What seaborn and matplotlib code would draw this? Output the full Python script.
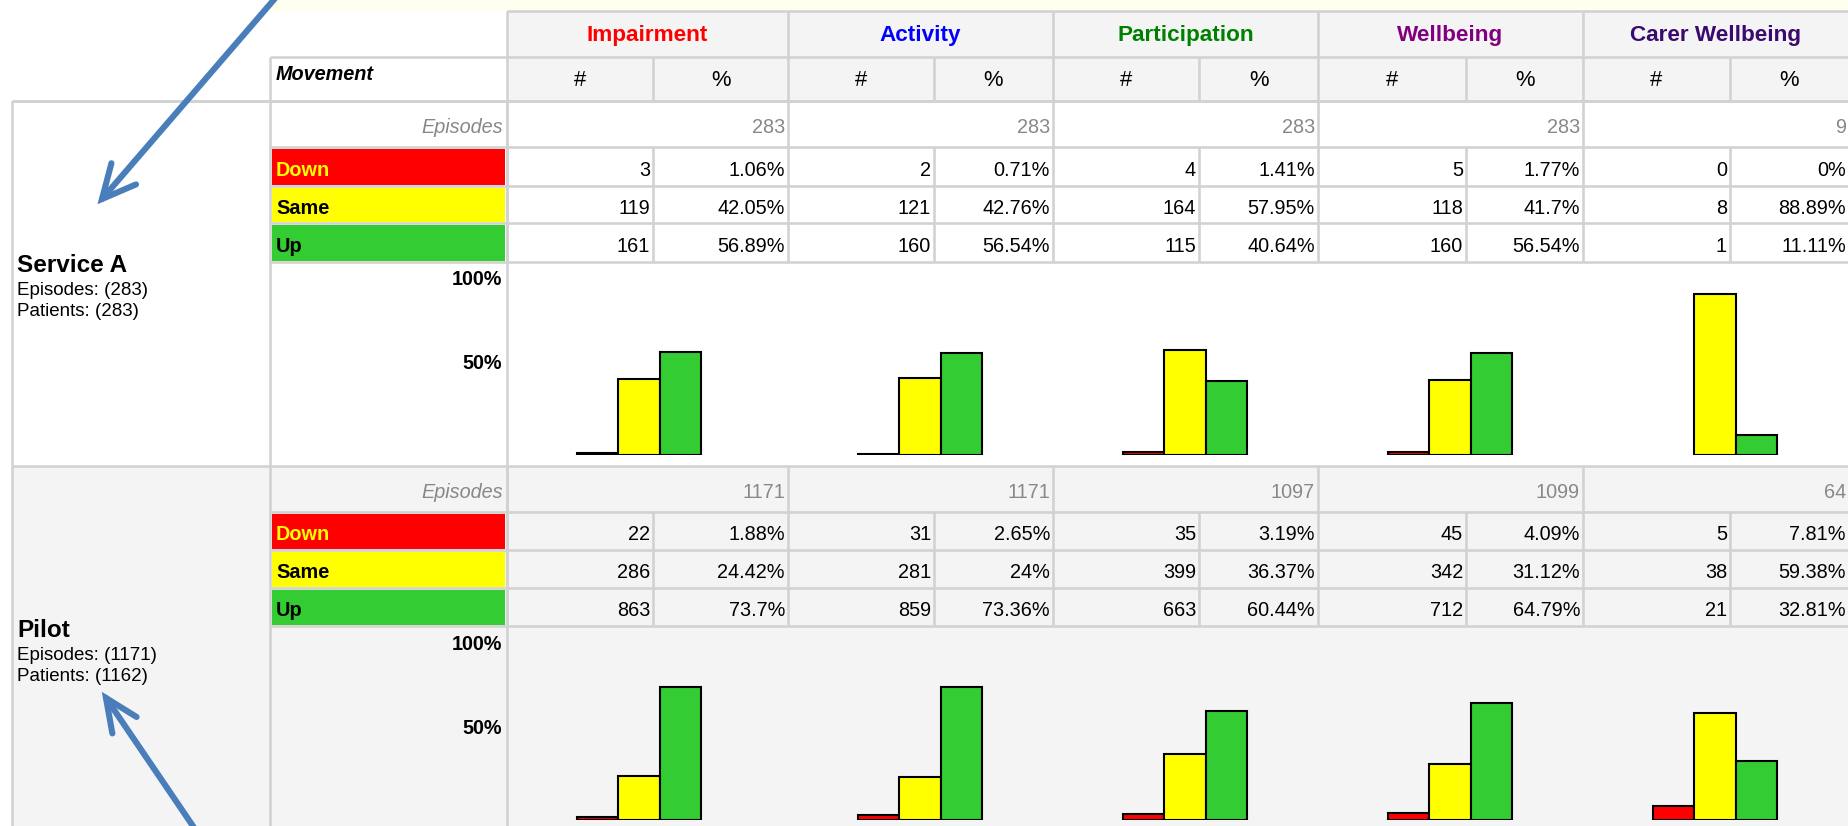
import matplotlib
matplotlib.use("Agg")
import matplotlib.pyplot as plt
import seaborn as sns
import pandas as pd
import numpy as np
from matplotlib.patches import Rectangle

# ---------------- data ----------------
measures = ["Impairment", "Activity", "Participation", "Wellbeing", "Carer Wellbeing"]
measure_colors = ["#FF0000", "#0000FF", "#008000", "#800080", "#3A0A6E"]
movements = ["Down", "Same", "Up"]
movement_colors = {"Down": "#FF0000", "Same": "#FFFF00", "Up": "#33CC33"}
movement_text = {"Down": "#FFFF00", "Same": "black", "Up": "black"}

groups = ["Service A", "Pilot"]
group_episodes = [283, 1171]
group_patients = [283, 1162]

a_episodes = [283, 283, 283, 283, 9]
a_down_n = [3, 2, 4, 5, 0]
a_same_n = [119, 121, 164, 118, 8]
a_up_n = [161, 160, 115, 160, 1]
a_down_pct = [1.06, 0.71, 1.41, 1.77, 0]
a_same_pct = [42.05, 42.76, 57.95, 41.7, 88.89]
a_up_pct = [56.89, 56.54, 40.64, 56.54, 11.11]

p_episodes = [1171, 1171, 1097, 1099, 64]
p_down_n = [22, 31, 35, 45, 5]
p_same_n = [286, 281, 399, 342, 38]
p_up_n = [863, 859, 663, 712, 21]
p_down_pct = [1.88, 2.65, 3.19, 4.09, 7.81]
p_same_pct = [24.42, 24, 36.37, 31.12, 59.38]
p_up_pct = [73.7, 73.36, 60.44, 64.79, 32.81]

scale_ticks = [100, 50]

# ---------------- layout (pixels) ----------------
W, H = 1849, 826
GRID = "#D2D2D2"
GREY = "#F4F4F4"
FONT = ["Liberation Sans", "DejaVu Sans"]

sns.set_theme(style="white")
plt.rcParams["font.family"] = FONT

fig = plt.figure(figsize=(W / 100, H / 100), dpi=100)
fig.patch.set_facecolor("white")
bg = fig.add_axes([0, 0, 1, 1])
bg.set_xlim(0, W)
bg.set_ylim(H, 0)
bg.axis("off")


def ptpx(pt):
    return pt * 100 / 72


def rect(x0, y0, x1, y1, color, z=0):
    bg.add_patch(Rectangle((x0, y0), x1 - x0, y1 - y0, facecolor=color,
                           edgecolor="none", zorder=z))


def hline(y, x0, x1):
    bg.plot([x0, x1], [y, y], color=GRID, lw=1.9, solid_capstyle="butt", zorder=2)


def vline(x, y0, y1):
    bg.plot([x, x], [y0, y1], color=GRID, lw=1.9, solid_capstyle="butt", zorder=2)


def txt(x, yc, s, size, ha="left", color="black", weight="normal", style="normal"):
    bg.text(x, yc + 0.36 * ptpx(size), s, ha=ha, va="baseline", fontsize=size,
            color=color, fontweight=weight, fontstyle=style, zorder=4)


def fmt_pct(v):
    return f"{v:g}%"


LAB_L, MOV_L, TAB_L = 12, 270, 507
g_left = [507, 788, 1053, 1318, 1583]
g_right = [788, 1053, 1318, 1583, 1849]
g_div = [653, 934, 1199, 1466, 1730]

sections = [
    dict(top=101, ep=(101, 147), rows=[(147, 186), (186, 223), (223, 262)],
         bottom=466, base=455, bgc="white",
         eps=a_episodes, n=[a_down_n, a_same_n, a_up_n],
         pct=[a_down_pct, a_same_pct, a_up_pct], label_y=263),
    dict(top=466, ep=(466, 512), rows=[(512, 550), (550, 588), (588, 626)],
         bottom=830, base=820, bgc=GREY,
         eps=p_episodes, n=[p_down_n, p_same_n, p_up_n],
         pct=[p_down_pct, p_same_pct, p_up_pct], label_y=628),
]
PX100 = 181

# backgrounds
rect(MOV_L, 0, W, 11, "#FFFFF0")
rect(TAB_L, 11, W, 101, GREY)
rect(LAB_L, 466, W, H, GREY)

# header
for j, m in enumerate(measures):
    txt((g_left[j] + g_right[j]) / 2, 33, m, 16.2, ha="center",
        color=measure_colors[j], weight="bold")
    txt((g_left[j] + g_div[j]) / 2, 78, "#", 15.8, ha="center")
    txt((g_div[j] + g_right[j]) / 2, 78, "%", 15.8, ha="center")
txt(276, 73, "Movement", 14.3, weight="bold", style="italic")

hline(11, TAB_L, W)
hline(57, MOV_L, W)
hline(101, LAB_L, W)
for x in g_left:
    vline(x, 11, 101)
for x in g_div:
    vline(x, 57, 101)
vline(MOV_L, 57, 101)

# sections
for si, sec in enumerate(sections):
    e0, e1 = sec["ep"]
    ey = (e0 + e1) / 2 + 2
    txt(503, ey, "Episodes", 14.3, ha="right", color="#888888", style="italic")
    for j in range(len(measures)):
        txt(g_right[j] - 3, ey, str(sec["eps"][j]), 14.3, ha="right", color="#888888")
    for r, mv in enumerate(movements):
        y0, y1 = sec["rows"][r]
        rect(MOV_L + 2, y0 + 1.5, TAB_L - 2, y1 - 1.5, movement_colors[mv], z=1)
        yc = (y0 + y1) / 2 + 2
        txt(276, yc, mv, 14.3, color=movement_text[mv], weight="bold")
        for j in range(len(measures)):
            txt(g_div[j] - 3, yc, str(sec["n"][r][j]), 14.3, ha="right")
            txt(g_right[j] - 3, yc, fmt_pct(sec["pct"][r][j]), 14.3, ha="right")
        hline(y0, MOV_L, W)
        for x in g_div:
            vline(x, y0, y1)
    hline(sec["rows"][-1][1], MOV_L, W)
    hline(sec["top"], LAB_L, W)
    for x in g_left:
        vline(x, e0, sec["rows"][-1][1])
    vline(LAB_L, sec["top"], sec["bottom"])
    vline(MOV_L, sec["top"], sec["bottom"])
    vline(TAB_L, sec["top"], sec["bottom"])

    # group label
    ly = sec["label_y"]
    txt(17, ly, groups[si], 17.5, weight="bold")
    txt(17, ly + 25, f"Episodes: ({group_episodes[si]})", 13.5)
    txt(17, ly + 46, f"Patients: ({group_patients[si]})", 13.5)

    # scale labels
    base = sec["base"]
    for t, off in zip(scale_ticks, [4, -2.5]):
        txt(502, base - PX100 * t / 100 + off, f"{t}%", 14.2, ha="right", weight="bold")

    # bar charts
    bw = 41.5
    for j, m in enumerate(measures):
        cx = g_left[j] + 132
        ax = fig.add_axes([(cx - 2.5 * bw) / W, 1 - base / H, 5 * bw / W, PX100 / H])
        df = pd.DataFrame({"Movement": movements,
                           "pct": [sec["pct"][0][j], sec["pct"][1][j], sec["pct"][2][j]]})
        sns.barplot(data=df, x="Movement", y="pct", hue="Movement", order=movements,
                    hue_order=movements, palette=movement_colors, width=1.0,
                    saturation=1, edgecolor="black", linewidth=1.5, legend=False, ax=ax)
        for p in ax.patches:
            if p.get_height() == 0:
                p.set_visible(False)
        ax.set_xlim(-1.5, 3.5)
        ax.set_ylim(0, 100)
        ax.axis("off")
        ax.patch.set_alpha(0)

# annotation arrows
ARROW = "#4A7EBB"


def arrow(start, tip, spread, length):
    sx, sy = start
    tx, ty = tip
    bg.plot([sx, tx], [sy, ty], color=ARROW, lw=4.4, solid_capstyle="round", zorder=5)
    ang = np.arctan2(sy - ty, sx - tx)
    pts = []
    for s in (-1, 1):
        a = ang + s * np.deg2rad(spread)
        pts.append((tx + length * np.cos(a), ty + length * np.sin(a)))
    bg.plot([pts[0][0], tx, pts[1][0]], [pts[0][1], ty, pts[1][1]], color=ARROW,
            lw=4.4, solid_capstyle="round", solid_joinstyle="miter", zorder=5)


arrow((284, -12), (102, 199), 26, 37)
arrow((197, 832), (106, 698), 24, 36)

fig.savefig("out.png", dpi=100, facecolor="white")
